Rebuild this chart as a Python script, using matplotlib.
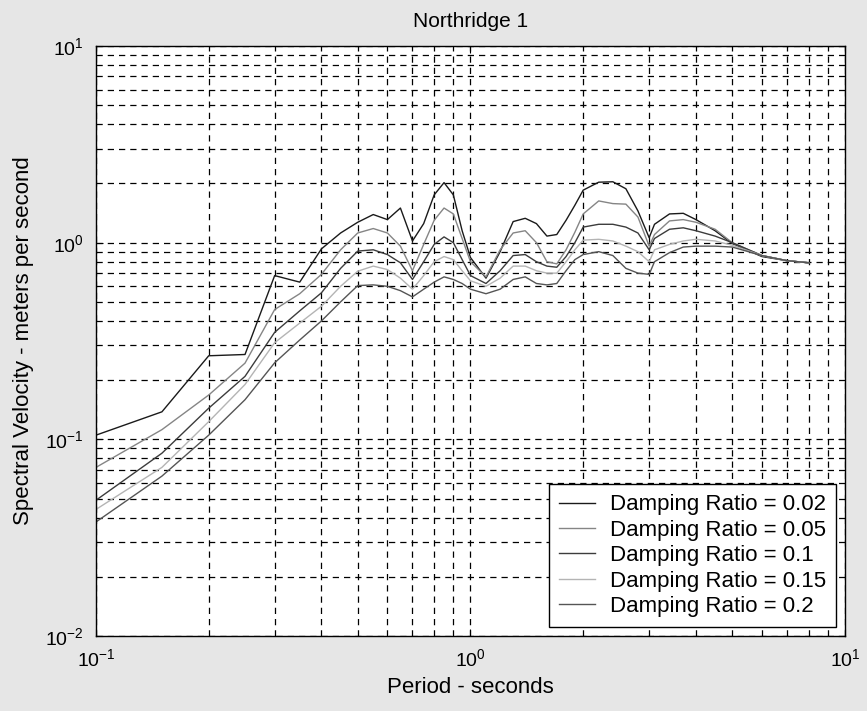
import matplotlib
matplotlib.use("Agg")
import matplotlib.pyplot as plt
from matplotlib.ticker import LogLocator, NullFormatter

plt.rcParams['font.family'] = ['Liberation Sans', 'DejaVu Sans']
plt.rcParams['mathtext.fontset'] = 'custom'
plt.rcParams['mathtext.rm'] = 'Liberation Sans'
plt.rcParams['mathtext.it'] = 'Liberation Sans'

period = [0.10, 0.15, 0.20, 0.25, 0.30, 0.35, 0.40, 0.45, 0.50, 0.55, 0.60, 0.65, 0.70, 0.75,
          0.80, 0.85, 0.90, 0.95, 1.00, 1.10, 1.20, 1.30, 1.40, 1.50, 1.60, 1.70, 1.80, 1.90,
          2.00, 2.20, 2.40, 2.60, 2.80, 3.00, 3.10, 3.40, 3.70, 4.00, 4.50, 5.00, 6.00, 7.00, 8.00]

sv_002 = [0.105, 0.138, 0.266, 0.27, 0.68, 0.63, 0.93, 1.12, 1.27, 1.39, 1.31, 1.50, 1.02, 1.25,
          1.75, 2.02, 1.75, 1.15, 0.84, 0.66, 0.90, 1.28, 1.33, 1.25, 1.08, 1.10, 1.30, 1.55,
          1.85, 2.03, 2.04, 1.88, 1.45, 1.06, 1.24, 1.40, 1.41, 1.31, 1.15, 0.99, 0.85, 0.81, 0.79]
sv_005 = [0.072, 0.112, 0.168, 0.244, 0.457, 0.55, 0.69, 0.92, 1.12, 1.18, 1.12, 0.96, 0.72, 0.98,
          1.30, 1.50, 1.40, 1.05, 0.80, 0.67, 0.92, 1.12, 1.15, 1.00, 0.80, 0.78, 0.92, 1.13,
          1.40, 1.63, 1.58, 1.57, 1.35, 0.96, 1.10, 1.29, 1.31, 1.27, 1.17, 1.00, 0.86, 0.81, 0.79]
sv_010 = [0.049, 0.085, 0.144, 0.209, 0.35, 0.45, 0.556, 0.74, 0.906, 0.92, 0.87, 0.79, 0.65, 0.80,
          0.98, 1.07, 1.00, 0.82, 0.68, 0.62, 0.72, 0.86, 0.87, 0.80, 0.76, 0.75, 0.85, 1.00,
          1.20, 1.24, 1.24, 1.20, 1.12, 0.92, 1.05, 1.17, 1.19, 1.15, 1.08, 1.00, 0.86, 0.81, 0.79]
sv_015 = [0.044, 0.072, 0.123, 0.19, 0.31, 0.39, 0.475, 0.60, 0.716, 0.76, 0.73, 0.66, 0.58, 0.68,
          0.80, 0.85, 0.82, 0.72, 0.64, 0.60, 0.66, 0.76, 0.76, 0.72, 0.70, 0.70, 0.80, 0.92,
          1.03, 1.04, 1.02, 0.96, 0.90, 0.80, 0.92, 0.98, 1.02, 1.04, 1.02, 0.97, 0.86, 0.81, 0.79]
sv_020 = [0.038, 0.065, 0.105, 0.159, 0.245, 0.32, 0.40, 0.50, 0.605, 0.61, 0.60, 0.57, 0.53, 0.58,
          0.63, 0.67, 0.65, 0.62, 0.58, 0.55, 0.58, 0.65, 0.67, 0.62, 0.61, 0.62, 0.72, 0.82,
          0.87, 0.90, 0.86, 0.74, 0.70, 0.69, 0.80, 0.89, 0.95, 0.96, 0.96, 0.95, 0.86, 0.81, 0.79]

labels = ["Damping Ratio = 0.02", "Damping Ratio = 0.05", "Damping Ratio = 0.1",
          "Damping Ratio = 0.15", "Damping Ratio = 0.2"]
colors = ['#1a1a1a', '#858585', '#3c3c3c', '#b4b4b4', '#555555']

fig = plt.figure(figsize=(8.67, 7.11), dpi=100, facecolor='#e6e6e6')
ax = fig.add_axes([0.1107, 0.1055, 0.8639, 0.8298])

for vals, lab, c in zip([sv_002, sv_005, sv_010, sv_015, sv_020], labels, colors):
    ax.plot(period, vals, color=c, lw=1.0, label=lab)

ax.set_xscale('log')
ax.set_yscale('log')
ax.set_xlim(0.1, 10)
ax.set_ylim(0.01, 10)
ax.xaxis.set_minor_locator(LogLocator(base=10, subs=range(2, 10)))
ax.yaxis.set_minor_locator(LogLocator(base=10, subs=range(2, 10)))
ax.xaxis.set_minor_formatter(NullFormatter())
ax.yaxis.set_minor_formatter(NullFormatter())

ax.grid(True, which='both', color='black', linestyle=(0, (5, 4)), linewidth=0.9)
ax.tick_params(which='both', direction='in', top=True, right=True, labelsize=14)
ax.tick_params(axis='x', which='major', pad=9)
ax.tick_params(axis='y', which='major', pad=9)
ax.tick_params(which='major', length=5)
ax.tick_params(which='minor', length=3)
for s in ax.spines.values():
    s.set_linewidth(1.0)

ax.set_title("Northridge 1", fontsize=15, pad=14)
ax.set_xlabel("Period - seconds", fontsize=16, labelpad=5)
ax.set_ylabel("Spectral Velocity - meters per second", fontsize=16, labelpad=8)

leg = ax.legend(loc='lower right', fontsize=16, fancybox=False, framealpha=1,
                edgecolor='black', borderaxespad=0.4, handlelength=1.62,
                handletextpad=0.68, labelspacing=0.2, borderpad=0.45)
leg.get_frame().set_linewidth(1.0)

fig.savefig("out.png", dpi=100, facecolor=fig.get_facecolor())
